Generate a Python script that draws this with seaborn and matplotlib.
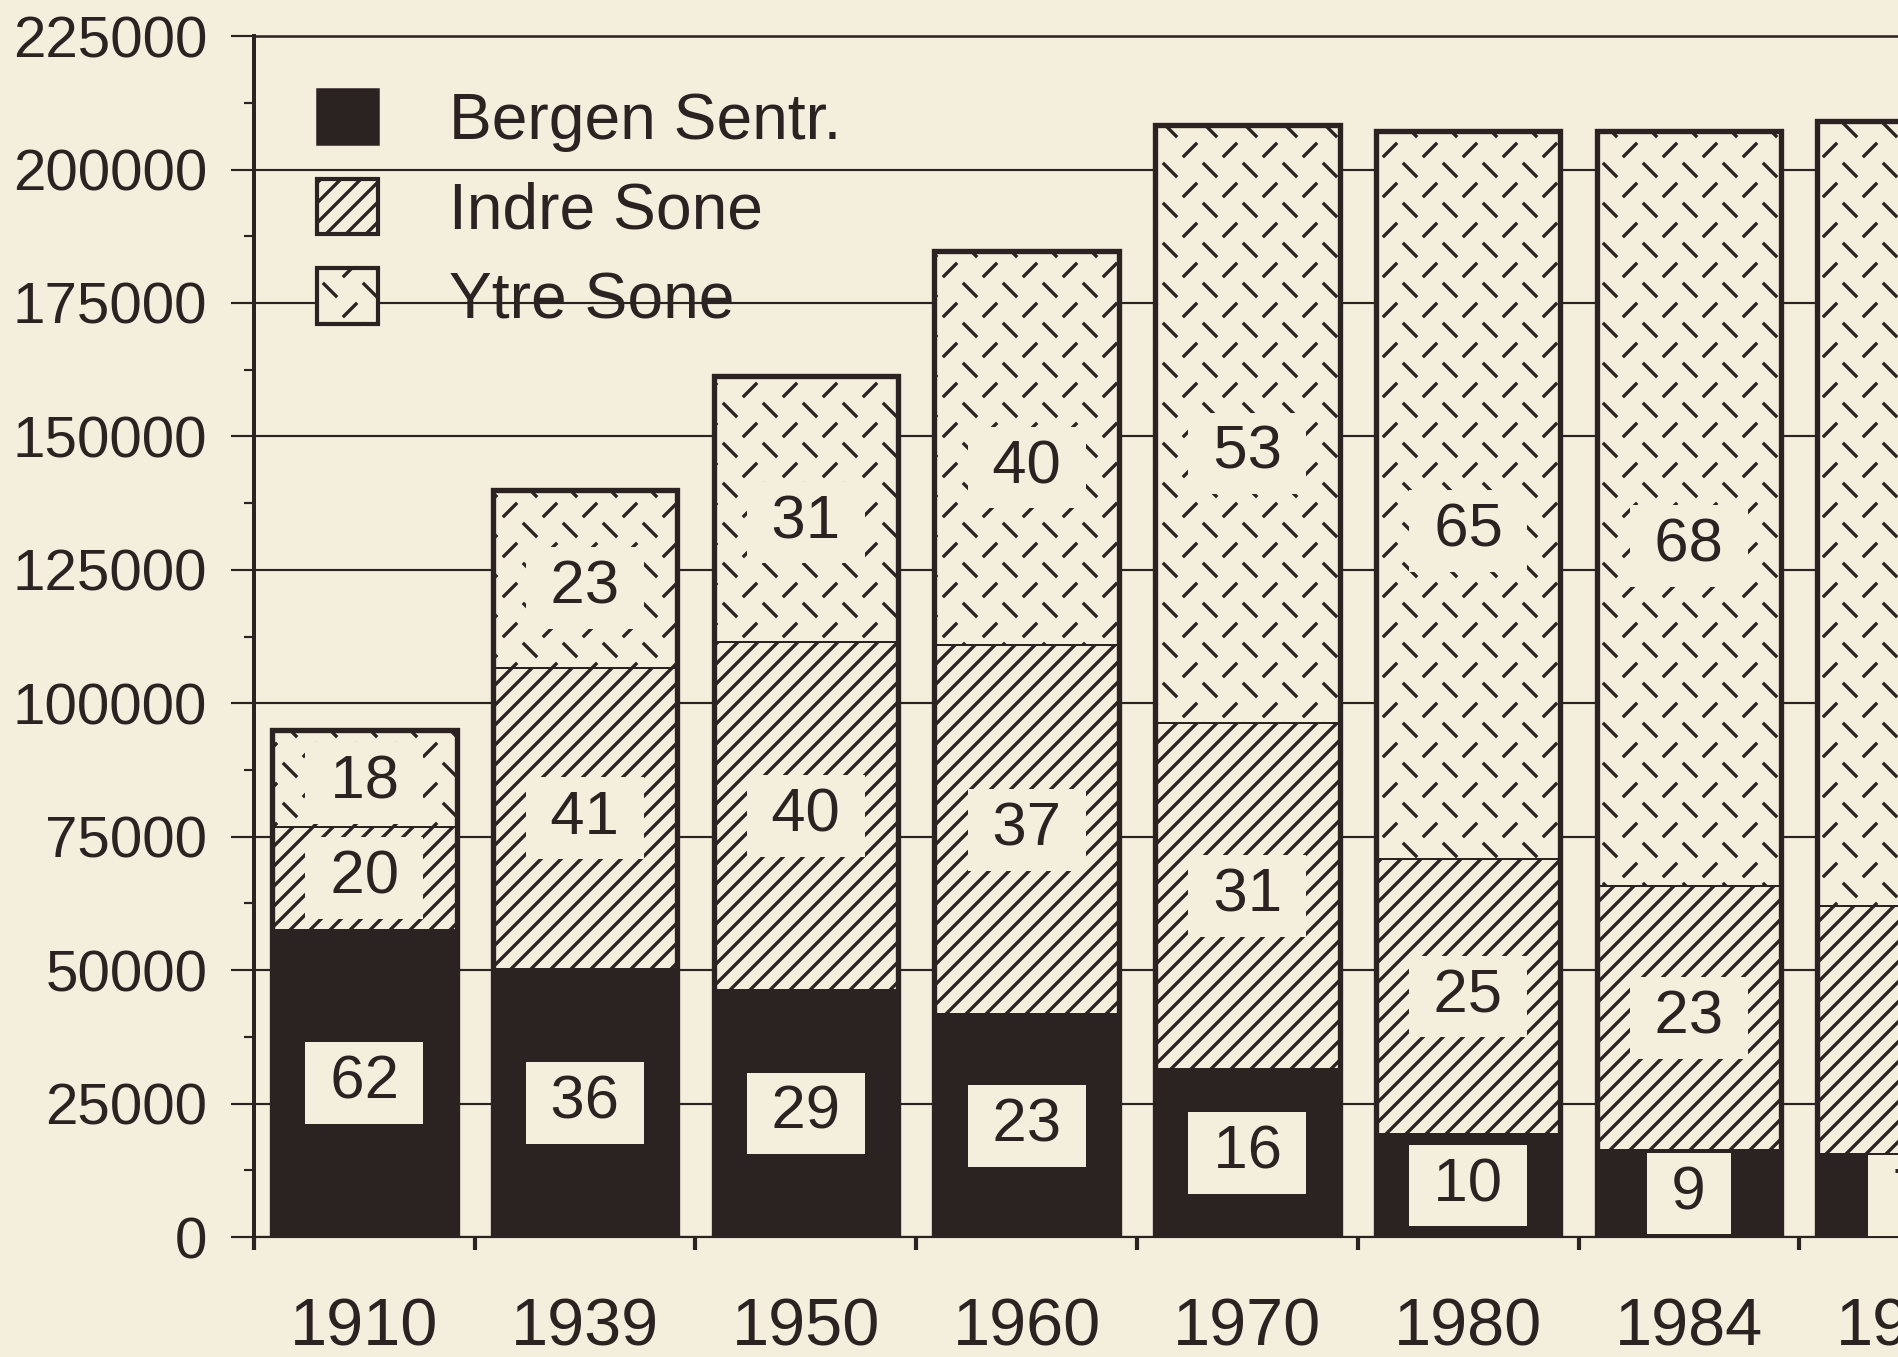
import numpy as np
import matplotlib
matplotlib.use("Agg")
import matplotlib.pyplot as plt
import matplotlib.hatch as mhatch
import matplotlib.patches as mpatches
from matplotlib.path import Path
from matplotlib.ticker import MultipleLocator, FixedLocator
import seaborn as sns

# data
years = ["1910", "1939", "1950", "1960", "1970", "1980", "1984", "1990"]
bergen = [57600, 50300, 46300, 41700, 31500, 19300, 16300, 15600]
indre = [19300, 56300, 65100, 69200, 64900, 51500, 49500, 46500]
ytre = [18100, 33300, 49900, 73900, 112000, 136500, 141500, 147000]
# percent labels (last bar is cut off in the picture, its upper labels hidden)
bergen_pct = [62, 36, 29, 23, 16, 10, 9, 7]
indre_pct = [20, 41, 40, 37, 31, 25, 23, None]
ytre_pct = [18, 23, 31, 40, 53, 65, 68, None]
zones = ["Bergen Sentr.", "Indre Sone", "Ytre Sone"]

BG = "#f4eedd"
INK = "#2b2222"


# custom hatch: short alternating "\" and "/" dashes for Ytre Sone
class DashHatch(mhatch.HatchPatternBase):
    def __init__(self, hatch, density):
        self.n = hatch.count("~") * 3
        self.num_vertices = 4 * self.n * self.n

    def set_vertices_and_codes(self, vertices, codes):
        n = self.n
        step = 1.0 / n
        d = 0.05
        pts = []
        for i in range(n):
            for j in range(n):
                cx, cy = (i + 0.25) * step, (j + 0.75) * step
                pts += [(cx - d, cy + d), (cx + d, cy - d)]
                cx, cy = (i + 0.75) * step, (j + 0.25) * step
                pts += [(cx - d, cy - d), (cx + d, cy + d)]
        vertices[:] = pts
        codes[0::2] = Path.MOVETO
        codes[1::2] = Path.LINETO


mhatch._hatch_types.append(DashHatch)
mhatch._validate_hatch_pattern = lambda hatch: None

sns.set_theme(style="ticks")
plt.rcParams["font.family"] = ["Liberation Sans", "DejaVu Sans"]
plt.rcParams["hatch.linewidth"] = 2.0
plt.rcParams["axes.edgecolor"] = INK
plt.rcParams["text.color"] = INK

bergen = np.array(bergen)
indre = np.array(indre)
ytre = np.array(ytre)
mid = bergen + indre
total = mid + ytre

fig = plt.figure(figsize=(1898 / 120, 1357 / 120), dpi=120, facecolor=BG)
ax = fig.add_axes([0.1338, 0.0884, 0.9305, 0.8850], facecolor=BG)

w = 0.835
sns.barplot(x=years, y=total, color=BG, saturation=1, width=w, hatch="~",
            edgecolor=INK, linewidth=1.2, ax=ax, zorder=2)
sns.barplot(x=years, y=mid, color=BG, saturation=1, width=w, hatch="//",
            edgecolor=INK, linewidth=1.2, ax=ax, zorder=2)
sns.barplot(x=years, y=bergen, color=INK, saturation=1, width=w,
            edgecolor=INK, linewidth=1.2, ax=ax, zorder=2)
sns.barplot(x=years, y=total, fill=False, color=INK, width=w,
            linewidth=3.2, ax=ax, zorder=3)

# percentage labels
box = dict(boxstyle="square,pad=0.2", fc=BG, ec="none")
ts = "\u2009"
for i in range(len(years)):
    ax.text(i, bergen[i] / 2, f"{ts}{bergen_pct[i]}{ts}", ha="center",
            va="center", fontsize=37, bbox=box, zorder=5)
    if indre_pct[i] is not None:
        ax.text(i, bergen[i] + indre[i] / 2, f"{ts}{indre_pct[i]}{ts}",
                ha="center", va="center", fontsize=37, bbox=box, zorder=5)
    if ytre_pct[i] is not None:
        ax.text(i, mid[i] + ytre[i] * 0.45, f"{ts}{ytre_pct[i]}{ts}",
                ha="center", va="center", fontsize=37, bbox=box, zorder=5)

ax.set_xlim(-0.5, len(years) - 0.5)
ax.set_ylim(0, 225000)
ax.yaxis.set_major_locator(MultipleLocator(25000))
ax.yaxis.set_minor_locator(MultipleLocator(12500))
ax.xaxis.set_minor_locator(FixedLocator(np.arange(len(years) + 1) - 0.5))
ax.grid(axis="y", color=INK, linewidth=1.3)
ax.set_axisbelow(True)
ax.set_xlabel("")
ax.set_ylabel("")

ax.tick_params(axis="y", which="major", length=14, width=1.3, pad=14,
               labelsize=35, color=INK, labelcolor=INK)
ax.tick_params(axis="y", which="minor", length=6, width=1.3, color=INK)
ax.tick_params(axis="x", which="major", length=0, pad=36, labelsize=40,
               labelcolor=INK)
ax.tick_params(axis="x", which="minor", length=8, width=2.5, color=INK)

ax.spines["left"].set_linewidth(2.4)
ax.spines["top"].set_visible(True)
ax.spines["top"].set_linewidth(1.5)
ax.spines["bottom"].set_linewidth(1.3)
ax.spines["right"].set_visible(False)

handles = [
    mpatches.Patch(facecolor=INK, edgecolor=INK, linewidth=1.5),
    mpatches.Patch(facecolor=BG, edgecolor=INK, hatch="//", linewidth=2.5),
    mpatches.Patch(facecolor=BG, edgecolor=INK, hatch="~", linewidth=2.5),
]
ax.legend(handles, zones, loc="upper left", bbox_to_anchor=(0.0357, 0.956),
          frameon=False, fontsize=38.5, handlelength=0.95, handleheight=0.95,
          handletextpad=1.1, labelspacing=0.42, borderpad=0, borderaxespad=0)

fig.savefig("out.png", dpi=120, facecolor=BG)
